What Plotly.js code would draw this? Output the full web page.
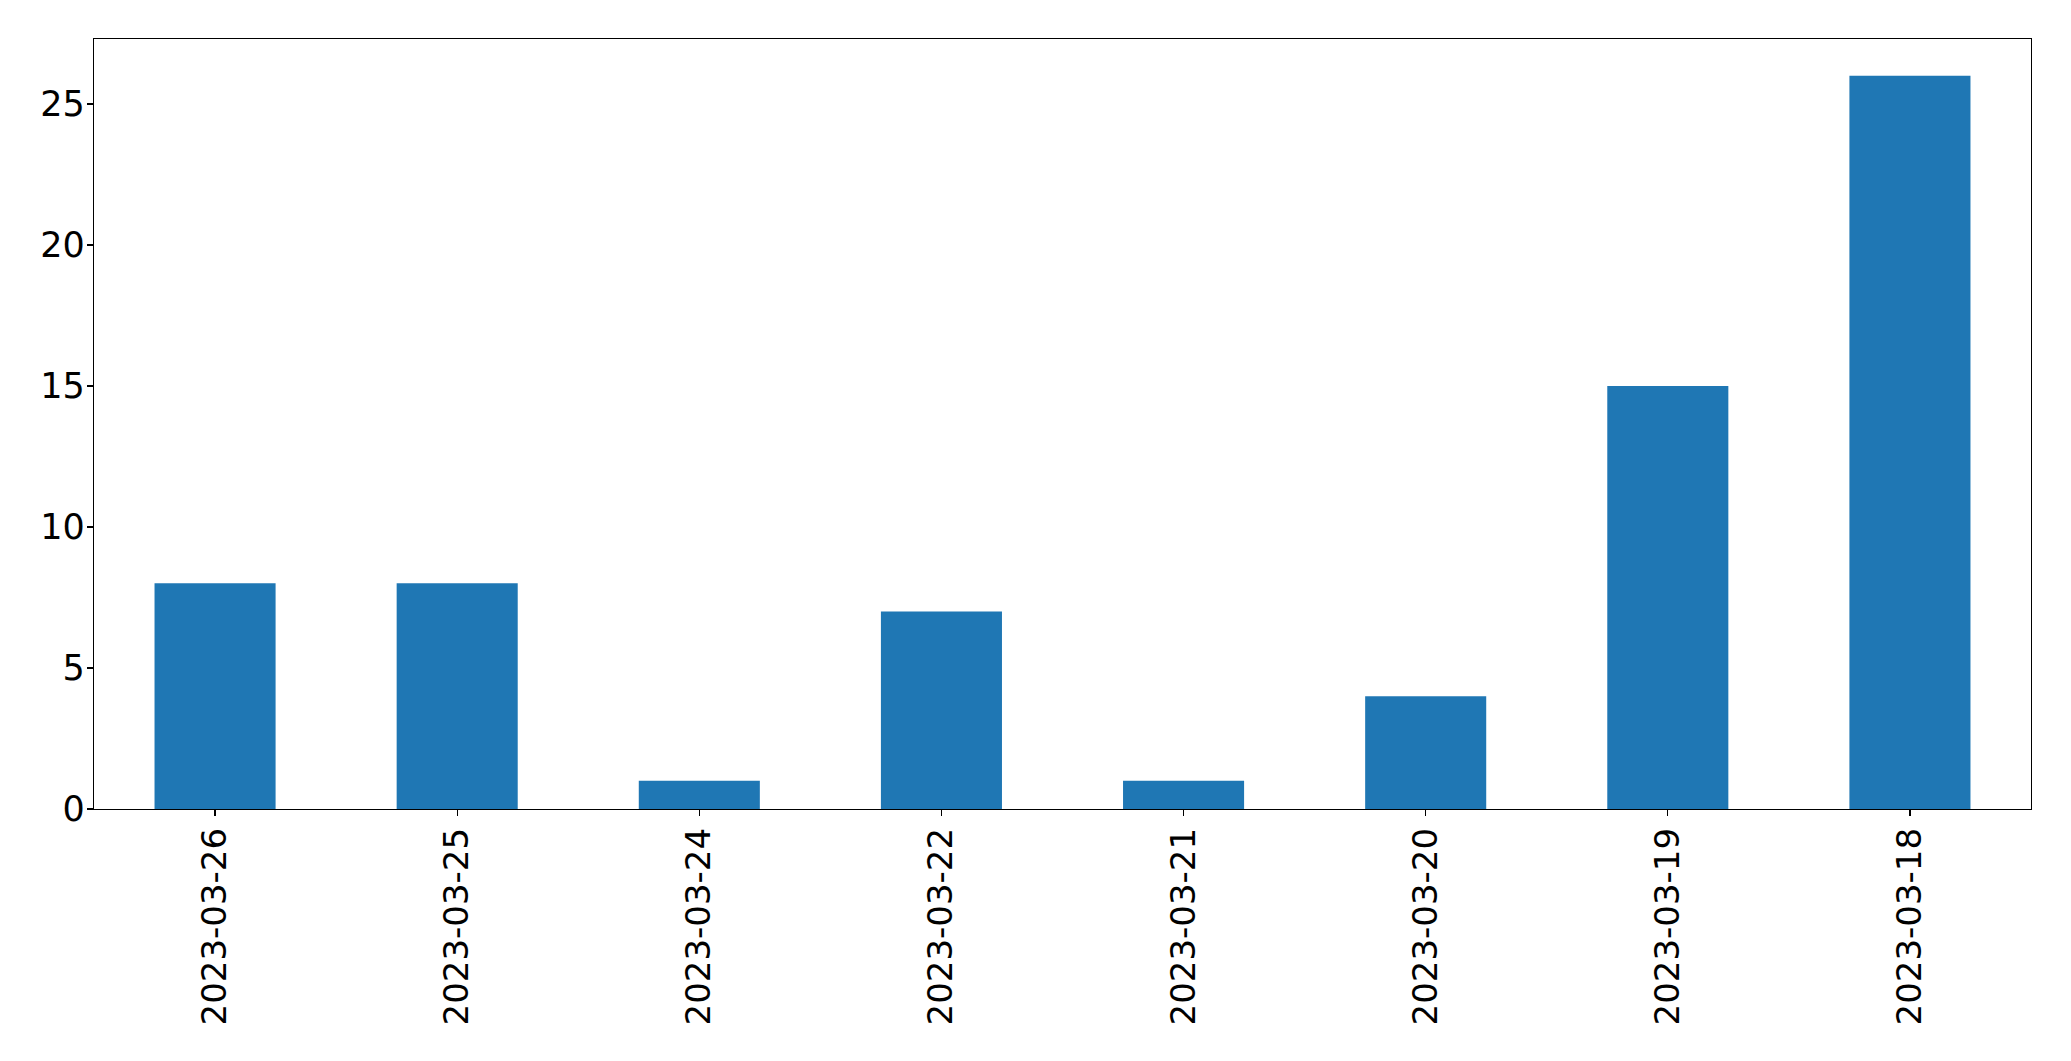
<!DOCTYPE html>
<html>
<head>
<meta charset="utf-8">
<script src="https://cdn.plot.ly/plotly-3.0.1.min.js"></script>
<style>html,body{margin:0;padding:0;background:#fff;}#chart{width:2071px;height:1061px;}</style>
</head>
<body>
<div id="chart"></div>
<script>
const dates = ["2023-03-26","2023-03-25","2023-03-24","2023-03-22","2023-03-21","2023-03-20","2023-03-19","2023-03-18"];
const counts = [8, 8, 1, 7, 1, 4, 15, 26];
const yTicks = [0, 5, 10, 15, 20, 25];

const trace = {
  type: 'bar',
  x: dates.map((d, i) => i),
  y: counts,
  width: 0.5,
  marker: {color: '#1f77b4', line: {width: 0}},
  hoverinfo: 'x+y'
};

const font = {family: 'DejaVu Sans', size: 34, color: '#000'};

const layout = {
  width: 2071, height: 1061,
  margin: {l: 94, r: 40, t: 39, b: 252, pad: 0},
  paper_bgcolor: '#fff', plot_bgcolor: '#fff',
  showlegend: false,
  font: font,
  xaxis: {
    range: [-0.5, 7.5],
    tickmode: 'array',
    tickvals: dates.map((d, i) => i),
    ticktext: dates,
    tickangle: -90,
    ticks: 'outside', ticklen: 6, tickwidth: 1.3, tickcolor: '#000',
    showline: true, linecolor: '#000', linewidth: 1.3, mirror: true,
    showgrid: false, zeroline: false,
    ticklabelstandoff: -2,
    tickfont: font
  },
  yaxis: {
    range: [0, 27.3],
    tickmode: 'array',
    tickvals: yTicks,
    ticktext: yTicks.map(String),
    ticks: 'outside', ticklen: 6, tickwidth: 1.3, tickcolor: '#000',
    showline: true, linecolor: '#000', linewidth: 1.3, mirror: true,
    showgrid: false, zeroline: false,
    ticklabelstandoff: -5,
    tickfont: {family: 'DejaVu Sans', size: 35, color: '#000'}
  }
};

Plotly.newPlot('chart', [trace], layout, {displayModeBar: false, staticPlot: true});
</script>
</body>
</html>
